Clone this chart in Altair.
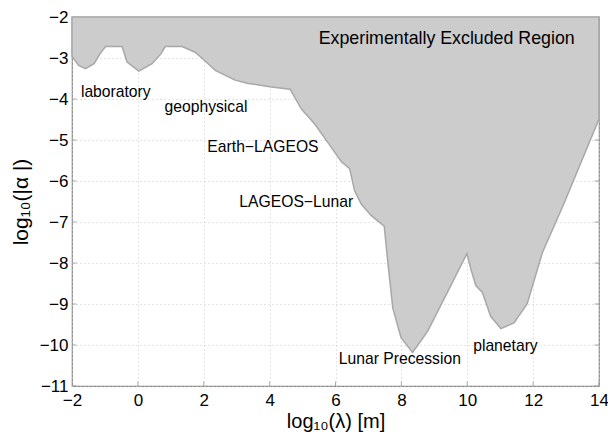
import altair as alt
import pandas as pd

# Boundary of the experimentally excluded region
lam = [-2.0, -1.8, -1.59, -1.33, -1.15, -0.98, -0.48, -0.33, 0.03, 0.43, 0.7, 0.83,
       1.34, 1.74, 2.05, 2.35, 2.95, 3.35, 4.0, 4.62, 4.97, 5.37, 5.83, 6.18, 6.43,
       6.58, 6.78, 7.08, 7.48, 7.59, 7.74, 7.99, 8.34, 8.8, 9.4, 9.99, 10.11, 10.26,
       10.46, 10.56, 10.71, 11.02, 11.42, 11.82, 12.28, 12.93, 14.0]
alpha = [-2.96, -3.18, -3.26, -3.14, -2.9, -2.72, -2.72, -3.1, -3.32, -3.14, -2.9, -2.72,
         -2.72, -2.86, -3.08, -3.30, -3.54, -3.62, -3.70, -3.76, -4.25, -4.61, -5.13, -5.53, -5.70,
         -6.24, -6.56, -6.84, -7.1, -7.99, -9.1, -9.82, -10.18, -9.66, -8.71, -7.77, -8.15, -8.55,
         -8.72, -8.95, -9.30, -9.6, -9.46, -8.99, -7.75, -6.56, -4.49]

# Annotations
label_text = ["laboratory", "geophysical", "Earth\u2212LAGEOS", "LAGEOS\u2212Lunar",
              "Lunar Precession", "planetary"]
label_x = [-1.73, 0.81, 2.11, 3.08, 6.1, 10.18]
label_y = [-3.84, -4.2, -5.17, -6.51, -10.35, -10.02]

region_text = ["Experimentally Excluded Region"]
region_x = [5.49]
region_y = [-2.54]

x_ticks = [-2, 0, 2, 4, 6, 8, 10, 12, 14]
y_ticks = [-11, -10, -9, -8, -7, -6, -5, -4, -3, -2]

curve = pd.DataFrame({"lam": lam, "alpha": alpha})
labels = pd.DataFrame({"t": label_text, "x": label_x, "y": label_y})
region = pd.DataFrame({"t": region_text, "x": region_x, "y": region_y})
xt = pd.DataFrame({"v": x_ticks})
yt = pd.DataFrame({"v": y_ticks})

xscale = alt.Scale(domain=[-2, 14], nice=False, zero=False)
yscale = alt.Scale(domain=[-11, -2], nice=False, zero=False)

xaxis = alt.Axis(values=x_ticks, title="log\u2081\u2080(\u03bb) [m]", grid=True, ticks=False,
                 domain=False, labelPadding=6, titlePadding=3, labelFlush=False,
                 titleFontSize=20)
yaxis = alt.Axis(values=y_ticks, title="log\u2081\u2080(|\u03b1 |)", grid=True, ticks=False,
                 domain=False, labelPadding=4, titlePadding=8, titleFontSize=21)

area = alt.Chart(curve).mark_area(
    color="#cccccc", stroke="#a8a8a8", strokeWidth=1.5, line=False
).encode(
    x=alt.X("lam:Q", scale=xscale, axis=xaxis),
    y=alt.Y("alpha:Q", scale=yscale, axis=yaxis),
    y2=alt.datum(-2),
)

tick_style = dict(color="#888888", thickness=1, size=9, clip=True)
bottom_ticks = alt.Chart(xt).mark_tick(orient="vertical", **tick_style).encode(
    x=alt.X("v:Q", scale=xscale), y=alt.datum(-11))
left_ticks = alt.Chart(yt).mark_tick(orient="horizontal", **tick_style).encode(
    y=alt.Y("v:Q", scale=yscale), x=alt.datum(-2))
right_ticks = alt.Chart(yt).mark_tick(orient="horizontal", **tick_style).encode(
    y=alt.Y("v:Q", scale=yscale), x=alt.datum(14))

text = alt.Chart(labels).mark_text(
    align="left", baseline="middle", fontSize=15.7, font="Liberation Sans", color="#000000"
).encode(
    x=alt.X("x:Q", scale=xscale),
    y=alt.Y("y:Q", scale=yscale),
    text="t:N",
)

region_label = alt.Chart(region).mark_text(
    align="left", baseline="middle", fontSize=17.8, font="Liberation Sans", color="#000000"
).encode(
    x=alt.X("x:Q", scale=xscale),
    y=alt.Y("y:Q", scale=yscale),
    text="t:N",
)

chart = alt.layer(bottom_ticks, left_ticks, right_ticks, area, text, region_label).properties(
    width=527, height=369,
    autosize=alt.AutoSizeParams(type="none"),
    padding={"left": 64, "top": 9, "right": 9, "bottom": 48},
).configure(
    font="Liberation Sans",
).configure_view(
    stroke="#888888", strokeWidth=1.2,
).configure_axis(
    labelFontSize=17, labelColor="#000000", titleFontWeight="normal",
    titleColor="#000000", gridColor="#c8c8c8", gridDash=[1, 3], gridWidth=1,
    labelFont="Liberation Sans", titleFont="Liberation Sans",
)

chart.save("out.html", embed_options={"renderer": "svg", "actions": False})
